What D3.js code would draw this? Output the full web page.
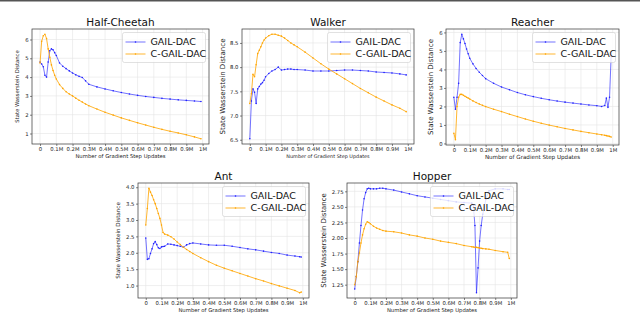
<!DOCTYPE html>
<html>
<head>
<meta charset="utf-8">
<script src="https://cdn.jsdelivr.net/npm/d3@7"></script>
<style>
  body { margin: 0; background: #fff; }
  svg { display: block; font-family: "DejaVu Sans", sans-serif; }
</style>
</head>
<body>
<svg width="640" height="314"></svg>
<script>
// x in millions of gradient steps, y = state Wasserstein distance

const xTicks = [0, 0.1, 0.2, 0.3, 0.4, 0.5, 0.6, 0.7, 0.8, 0.9, 1];
const seriesNames = ["GAIL-DAC", "C-GAIL-DAC"];

// Half-Cheetah
const hcX = [0, 0.01, 0.02, 0.03, 0.04, 0.05, 0.06, 0.07, 0.08, 0.09, 0.1, 0.12, 0.14, 0.16, 0.18, 0.2, 0.22, 0.24, 0.26, 0.28, 0.3, 0.35, 0.4, 0.45, 0.5, 0.55, 0.6, 0.65, 0.7, 0.75, 0.8, 0.85, 0.9, 0.95, 0.99];
const hcGail = [4.8, 4.7, 4.55, 4.1, 4.0, 4.8, 5.4, 5.5, 5.45, 5.3, 5.15, 4.75, 4.58, 4.45, 4.33, 4.22, 4.12, 4.04, 3.98, 3.8, 3.62, 3.48, 3.37, 3.27, 3.18, 3.1, 3.03, 2.97, 2.92, 2.87, 2.83, 2.79, 2.76, 2.73, 2.7];
const hcCgail = [4.75, 5.9, 6.2, 6.28, 6.05, 5.5, 5.05, 4.65, 4.35, 4.1, 3.9, 3.6, 3.4, 3.22, 3.1, 3.0, 2.88, 2.77, 2.67, 2.57, 2.48, 2.3, 2.13, 1.98, 1.83, 1.7, 1.57, 1.45, 1.33, 1.22, 1.12, 1.03, 0.93, 0.82, 0.72];
const hcTicks = [1, 2, 3, 4, 5, 6];

// Walker
const wkX = hcX;
const wkGail = [6.52, 7.3, 7.55, 7.48, 7.25, 7.55, 7.6, 7.65, 7.68, 7.73, 7.8, 7.87, 7.92, 7.95, 8.0, 7.94, 7.95, 7.96, 7.96, 7.95, 7.95, 7.94, 7.92, 7.92, 7.92, 7.93, 7.94, 7.94, 7.93, 7.92, 7.9, 7.89, 7.88, 7.86, 7.84];
const wkCgail = [7.25, 7.45, 7.85, 7.8, 8.05, 8.28, 8.35, 8.42, 8.5, 8.56, 8.6, 8.65, 8.68, 8.68, 8.66, 8.64, 8.6, 8.55, 8.5, 8.46, 8.42, 8.31, 8.19, 8.07, 7.96, 7.86, 7.76, 7.66, 7.56, 7.47, 7.38, 7.3, 7.22, 7.15, 7.08];
const wkTicks = [6.5, 7.0, 7.5, 8.0, 8.5];

// Reacher
const rcX = [0, 0.01, 0.02, 0.03, 0.04, 0.05, 0.06, 0.07, 0.08, 0.09, 0.1, 0.12, 0.14, 0.16, 0.18, 0.2, 0.25, 0.3, 0.35, 0.4, 0.45, 0.5, 0.55, 0.6, 0.65, 0.7, 0.75, 0.8, 0.85, 0.9, 0.93, 0.95, 0.96, 0.97, 0.98, 0.99];
const rcGail = [2.5, 1.85, 2.5, 3.25, 5.45, 5.9, 5.65, 5.4, 5.1, 4.85, 4.6, 4.3, 4.05, 3.85, 3.67, 3.5, 3.25, 3.05, 2.9, 2.75, 2.63, 2.53, 2.44, 2.36, 2.29, 2.23, 2.18, 2.13, 2.08, 2.04, 2.0, 2.05, 2.45, 1.95, 2.5, 4.7];
const rcCgail = [0.55, 0.2, 2.0, 2.5, 2.65, 2.65, 2.6, 2.55, 2.5, 2.45, 2.4, 2.3, 2.21, 2.13, 2.06, 1.99, 1.85, 1.72, 1.58, 1.45, 1.32, 1.2, 1.09, 0.99, 0.9, 0.81, 0.73, 0.65, 0.58, 0.51, 0.47, 0.44, 0.42, 0.4, 0.38, 0.35];
const rcTicks = [0, 1, 2, 3, 4, 5, 6];

// Ant
const antX = [0, 0.01, 0.02, 0.03, 0.04, 0.05, 0.06, 0.07, 0.08, 0.09, 0.1, 0.11, 0.12, 0.14, 0.16, 0.18, 0.2, 0.22, 0.24, 0.26, 0.28, 0.3, 0.35, 0.4, 0.45, 0.5, 0.55, 0.6, 0.65, 0.7, 0.75, 0.8, 0.85, 0.9, 0.95, 0.98, 0.99];
const antGail = [2.45, 1.8, 1.82, 1.98, 2.12, 2.28, 2.34, 2.25, 2.15, 2.13, 2.18, 2.19, 2.2, 2.27, 2.26, 2.24, 2.22, 2.2, 2.17, 2.24, 2.28, 2.3, 2.27, 2.24, 2.23, 2.23, 2.2, 2.16, 2.12, 2.09, 2.05, 2.01, 1.98, 1.93, 1.9, 1.88, 1.87];
const antCgail = [2.85, 3.35, 3.97, 3.85, 3.75, 3.62, 3.5, 3.35, 3.2, 3.05, 2.85, 2.62, 2.57, 2.54, 2.49, 2.42, 2.33, 2.25, 2.17, 2.1, 2.04, 1.98, 1.85, 1.73, 1.62, 1.53, 1.45, 1.37, 1.29, 1.21, 1.14, 1.06, 0.99, 0.92, 0.85, 0.78, 0.8];
const antTicks = [1.0, 1.5, 2.0, 2.5, 3.0, 3.5, 4.0];

// Hopper
const hpX = [0, 0.01, 0.02, 0.03, 0.04, 0.05, 0.06, 0.07, 0.08, 0.09, 0.1, 0.12, 0.14, 0.16, 0.18, 0.2, 0.25, 0.3, 0.35, 0.4, 0.45, 0.5, 0.55, 0.6, 0.65, 0.7, 0.75, 0.76, 0.77, 0.78, 0.79, 0.8, 0.81, 0.82, 0.84, 0.86, 0.9, 0.95, 0.98, 0.99];
const hpGail = [1.18, 1.38, 1.62, 1.92, 2.2, 2.45, 2.63, 2.73, 2.79, 2.8, 2.79, 2.79, 2.79, 2.8, 2.8, 2.79, 2.77, 2.74, 2.71, 2.68, 2.66, 2.64, 2.62, 2.6, 2.58, 2.57, 2.56, 2.52, 2.2, 1.12, 1.52, 1.95, 2.2, 2.38, 2.62, 2.76, 2.79, 2.79, 2.78, 2.78];
const hpCgail = [1.25, 1.38, 1.62, 1.76, 1.92, 2.05, 2.15, 2.22, 2.26, 2.25, 2.23, 2.19, 2.16, 2.14, 2.12, 2.11, 2.1, 2.08, 2.05, 2.03, 2.0, 1.98, 1.95, 1.93, 1.91, 1.88, 1.86, 1.855, 1.85, 1.85, 1.845, 1.84, 1.835, 1.83, 1.825, 1.82, 1.8, 1.78, 1.77, 1.67];
const hpTicks = [1.25, 1.5, 1.75, 2.0, 2.25, 2.5, 2.75];

const colors = ["#2020ff", "#ffa500"];

const charts = [
    { title: "Half-Cheetah", x: hcX, ys: [hcGail, hcCgail], yTicks: hcTicks, yFmt: "d",
      left: 32, top: 29, right: 209, bottom: 144, ylabOff: 13, ylabSize: 5.3, xlabSize: 5.3 },
    { title: "Walker", x: wkX, ys: [wkGail, wkCgail], yTicks: wkTicks, yFmt: ".1f",
      left: 242, top: 29, right: 414, bottom: 144, ylabOff: 17, ylabSize: 7, xlabSize: 4.9 },
    { title: "Reacher", x: rcX, ys: [rcGail, rcCgail], yTicks: rcTicks, yFmt: "d",
      left: 446, top: 29, right: 619, bottom: 145, ylabOff: 13, ylabSize: 7, xlabSize: 5.6 },
    { title: "Ant", x: antX, ys: [antGail, antCgail], yTicks: antTicks, yFmt: ".1f",
      left: 138, top: 183, right: 309, bottom: 298, ylabOff: 18, ylabSize: 5.6, xlabSize: 5.3 },
    { title: "Hopper", x: hpX, ys: [hpGail, hpCgail], yTicks: hpTicks, yFmt: ".2f",
      left: 347, top: 183, right: 517, bottom: 298, ylabOff: 21, ylabSize: 6.9, xlabSize: 5.3 }
];

const svg = d3.select("svg");

// thin dark strip on the top edge of the figure
svg.append("rect").attr("x", 0).attr("y", 0).attr("width", 640).attr("height", 1.5).attr("fill", "#555");

function fmtX(d) {
    if (d === 0) return "0";
    if (d === 1) return "1M";
    return d.toFixed(1) + "M";
}

function drawChart(cfg) {
    const g = svg.append("g");

    // matplotlib-like 5% margins
    const xExt = d3.extent(cfg.x);
    const xPad = (xExt[1] - xExt[0]) * 0.05;
    const yExt = d3.extent(cfg.ys.flat());
    const yPad = (yExt[1] - yExt[0]) * 0.05;

    const scX = d3.scaleLinear()
        .domain([xExt[0] - xPad, xExt[1] + xPad])
        .range([cfg.left, cfg.right]);
    const scY = d3.scaleLinear()
        .domain([yExt[0] - yPad, yExt[1] + yPad])
        .range([cfg.bottom, cfg.top]);

    // grid
    g.append("g").selectAll("line").data(xTicks).enter().append("line")
        .attr("x1", d => scX(d)).attr("x2", d => scX(d))
        .attr("y1", cfg.top).attr("y2", cfg.bottom)
        .attr("stroke", "#e4e4e4").attr("stroke-width", 0.6);
    g.append("g").selectAll("line").data(cfg.yTicks).enter().append("line")
        .attr("x1", cfg.left).attr("x2", cfg.right)
        .attr("y1", d => scY(d)).attr("y2", d => scY(d))
        .attr("stroke", "#e4e4e4").attr("stroke-width", 0.6);

    // series
    const lineGen = d3.line().x((d, i) => scX(cfg.x[i])).y(d => scY(d));
    cfg.ys.forEach((vals, k) => {
        g.append("path")
            .attr("d", lineGen(vals))
            .attr("fill", "none")
            .attr("stroke", colors[k])
            .attr("stroke-opacity", k === 0 ? 0.7 : 0.9)
            .attr("stroke-width", 0.9);
        g.append("g").selectAll("circle").data(vals).enter().append("circle")
            .attr("cx", (d, i) => scX(cfg.x[i]))
            .attr("cy", d => scY(d))
            .attr("r", 0.8)
            .attr("fill", colors[k]);
    });

    // axes
    const axX = g.append("g")
        .attr("transform", `translate(0, ${cfg.bottom})`)
        .call(d3.axisBottom(scX).tickValues(xTicks).tickFormat(fmtX).tickSize(2).tickPadding(1.5));
    const axY = g.append("g")
        .attr("transform", `translate(${cfg.left}, 0)`)
        .call(d3.axisLeft(scY).tickValues(cfg.yTicks).tickFormat(d3.format(cfg.yFmt)).tickSize(2).tickPadding(1.5));
    [axX, axY].forEach(ax => {
        ax.select(".domain").remove();
        ax.selectAll("line").attr("stroke", "#333").attr("stroke-width", 0.6);
        ax.selectAll("text").attr("font-size", 5.3).attr("fill", "#222")
            .attr("font-family", "DejaVu Sans");
    });

    // frame
    g.append("rect")
        .attr("x", cfg.left).attr("y", cfg.top)
        .attr("width", cfg.right - cfg.left).attr("height", cfg.bottom - cfg.top)
        .attr("fill", "none").attr("stroke", "#333").attr("stroke-width", 0.7);

    // labels
    g.append("text")
        .attr("x", (cfg.left + cfg.right) / 2).attr("y", cfg.top - 3)
        .attr("text-anchor", "middle").attr("font-size", 10.5).attr("fill", "#111")
        .text(cfg.title);
    g.append("text")
        .attr("x", (cfg.left + cfg.right) / 2).attr("y", cfg.bottom + 14)
        .attr("text-anchor", "middle").attr("font-size", cfg.xlabSize).attr("fill", "#222")
        .text("Number of Gradient Step Updates");
    g.append("text")
        .attr("transform", `translate(${cfg.left - cfg.ylabOff}, ${(cfg.top + cfg.bottom) / 2}) rotate(-90)`)
        .attr("text-anchor", "middle").attr("font-size", cfg.ylabSize).attr("fill", "#222")
        .text("State Wasserstein Distance");

    // legend
    const lw = 83, lh = 30;
    const lx = cfg.right - 3.5 - lw, ly = cfg.top + 3.5;
    const leg = g.append("g");
    leg.append("rect")
        .attr("x", lx).attr("y", ly).attr("width", lw).attr("height", lh)
        .attr("rx", 2).attr("fill", "#fff").attr("fill-opacity", 0.8)
        .attr("stroke", "#ccc").attr("stroke-width", 0.6);
    seriesNames.forEach((name, k) => {
        const cy = ly + 9.5 + k * 12;
        leg.append("line")
            .attr("x1", lx + 3).attr("x2", lx + 23).attr("y1", cy).attr("y2", cy)
            .attr("stroke", colors[k]).attr("stroke-opacity", k === 0 ? 0.7 : 0.9).attr("stroke-width", 0.9);
        leg.append("circle").attr("cx", lx + 13).attr("cy", cy).attr("r", 0.8).attr("fill", colors[k]);
        leg.append("text")
            .attr("x", lx + 28).attr("y", cy + 3.4)
            .attr("font-size", 9.5).attr("fill", "#111")
            .text(name);
    });
}

charts.forEach(drawChart);
</script>
</body>
</html>
